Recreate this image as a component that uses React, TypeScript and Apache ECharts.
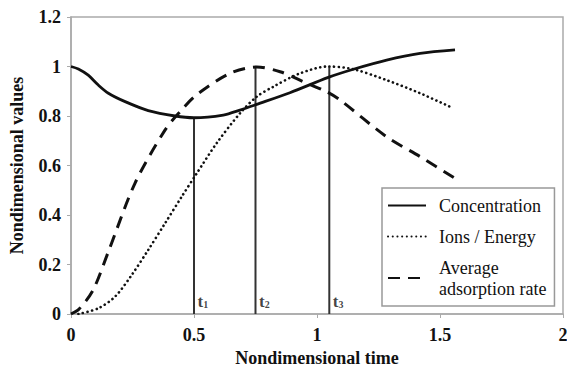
import React, { useEffect, useRef } from "react";
import * as echarts from "echarts";

const xTicks = [0, 0.5, 1, 1.5, 2];
const yTicks = [0, 0.2, 0.4, 0.6, 0.8, 1, 1.2];

const concentration: [number, number][] = [
  [0, 1.0], [0.03, 0.99], [0.07, 0.965], [0.111, 0.925], [0.152, 0.892], [0.22, 0.858],
  [0.314, 0.822], [0.423, 0.8], [0.5, 0.793], [0.619, 0.804], [0.687, 0.824],
  [0.755, 0.847], [0.89, 0.894], [1.046, 0.956], [1.148, 0.989], [1.283, 1.026],
  [1.419, 1.053], [1.561, 1.067],
];

const ionsEnergy: [number, number][] = [
  [0.03, 0.0], [0.111, 0.023], [0.179, 0.07], [0.247, 0.158], [0.314, 0.259],
  [0.382, 0.366], [0.45, 0.474], [0.511, 0.568], [0.592, 0.69], [0.687, 0.811],
  [0.755, 0.878], [0.822, 0.918], [0.93, 0.972], [1.045, 1.0], [1.148, 0.989],
  [1.283, 0.945], [1.419, 0.892], [1.554, 0.831],
];

const adsorptionRate: [number, number][] = [
  [0, 0], [0.033, 0.02], [0.09, 0.097], [0.152, 0.252], [0.26, 0.528], [0.382, 0.743],
  [0.443, 0.817], [0.51, 0.885], [0.646, 0.972], [0.755, 0.998], [0.85, 0.979],
  [0.944, 0.939], [1.039, 0.898], [1.093, 0.865], [1.283, 0.716], [1.419, 0.636],
  [1.561, 0.548],
];

const markerTimes = [0.5, 0.75, 1.05];
const markerTops = [0.793, 1.0, 1.0];
const markerNames = ["1", "2", "3"];

const seriesNames = ["Concentration", "Ions / Energy", "Average\nadsorption rate"];

const FONT = "'Liberation Serif', 'Times New Roman', serif";

export default function App() {
  const ref = useRef<HTMLDivElement>(null);
  useEffect(() => {
    document.body.style.margin = "0";
    if (!ref.current) return;
    const chart = echarts.init(ref.current, null, { renderer: "svg" });

    const markerSeries = markerTimes.map((t, i) => ({
      type: "line",
      name: "t" + markerNames[i],
      symbol: "none",
      silent: true,
      lineStyle: { color: "#333", width: 2 },
      data: [[t, 0], [t, markerTops[i]]],
      z: 1,
    }));

    const markerLabels = {
      type: "scatter",
      name: "markers",
      silent: true,
      symbolSize: 1,
      itemStyle: { color: "rgba(0,0,0,0)" },
      data: markerTimes.map((t) => [t, 0]),
      label: {
        show: true,
        position: "right",
        distance: 3,
        offset: [0, -13],
        formatter: (p: any) => "{t|t}{s|" + markerNames[p.dataIndex] + "}",
        rich: {
          t: { fontFamily: FONT, fontWeight: "bold", fontSize: 17, color: "#111" },
          s: { fontFamily: FONT, fontWeight: "bold", fontSize: 10, color: "#111", verticalAlign: "bottom", padding: [7, 0, 0, 0] },
        },
      },
      z: 4,
    };

    chart.setOption({
      animation: false,
      grid: {
        left: 71, right: 4, top: 17, bottom: 55,
        outerBoundsMode: "none",
        containLabel: false,
        show: true, borderColor: "#aaa", borderWidth: 1.5, backgroundColor: "transparent",
      },
      xAxis: {
        type: "value",
        min: xTicks[0], max: xTicks[xTicks.length - 1], interval: 0.5,
        name: "Nondimensional time",
        nameLocation: "middle", nameGap: 33,
        nameTextStyle: { fontFamily: FONT, fontWeight: "bold", fontSize: 18, color: "#111" },
        axisLine: { show: true, lineStyle: { color: "#aaa", width: 1.5 } },
        axisTick: { show: true, length: 4, lineStyle: { color: "#aaa" } },
        splitLine: { show: false },
        axisLabel: { fontFamily: FONT, fontWeight: "bold", fontSize: 18, color: "#111", margin: 12 },
      },
      yAxis: {
        type: "value",
        min: yTicks[0], max: yTicks[yTicks.length - 1], interval: 0.2,
        name: "Nondimensional values",
        nameLocation: "middle", nameGap: 45,
        nameTextStyle: { fontFamily: FONT, fontWeight: "bold", fontSize: 18, color: "#111" },
        axisLine: { show: true, lineStyle: { color: "#aaa", width: 1.5 } },
        axisTick: { show: true, length: 4, lineStyle: { color: "#aaa" } },
        splitLine: { show: false },
        axisLabel: { fontFamily: FONT, fontWeight: "bold", fontSize: 18, color: "#111", margin: 10 },
      },
      legend: {
        orient: "vertical",
        left: 382, top: 188,
        padding: [7, 8, 7, 5],
        itemGap: 10,
        itemWidth: 38,
        itemHeight: 14,
        borderColor: "#999",
        borderWidth: 1.5,
        backgroundColor: "#fff",
        data: seriesNames,
        itemStyle: { opacity: 0 },
        textStyle: { fontFamily: FONT, fontSize: 18, color: "#111", lineHeight: 21, padding: [0, 0, 0, 8] },
      },
      series: [
        ...markerSeries,
        markerLabels,
        {
          type: "line", name: seriesNames[0], symbol: "none", smooth: 0.3,
          lineStyle: { color: "#111", width: 2.8 },
          itemStyle: { color: "#111" },
          data: concentration, z: 3,
        },
        {
          type: "line", name: seriesNames[1], symbol: "none", smooth: 0.3,
          lineStyle: { color: "#111", width: 2.6, type: [0.1, 4.6], cap: "round" },
          itemStyle: { color: "#111" },
          data: ionsEnergy, z: 3,
        },
        {
          type: "line", name: seriesNames[2], symbol: "none", smooth: 0.3,
          lineStyle: { color: "#111", width: 3, type: [12, 8] },
          itemStyle: { color: "#111" },
          data: adsorptionRate, z: 3,
        },
      ],
    });
    return () => chart.dispose();
  }, []);
  return <div ref={ref} style={{ width: 567, height: 369 }} />;
}
